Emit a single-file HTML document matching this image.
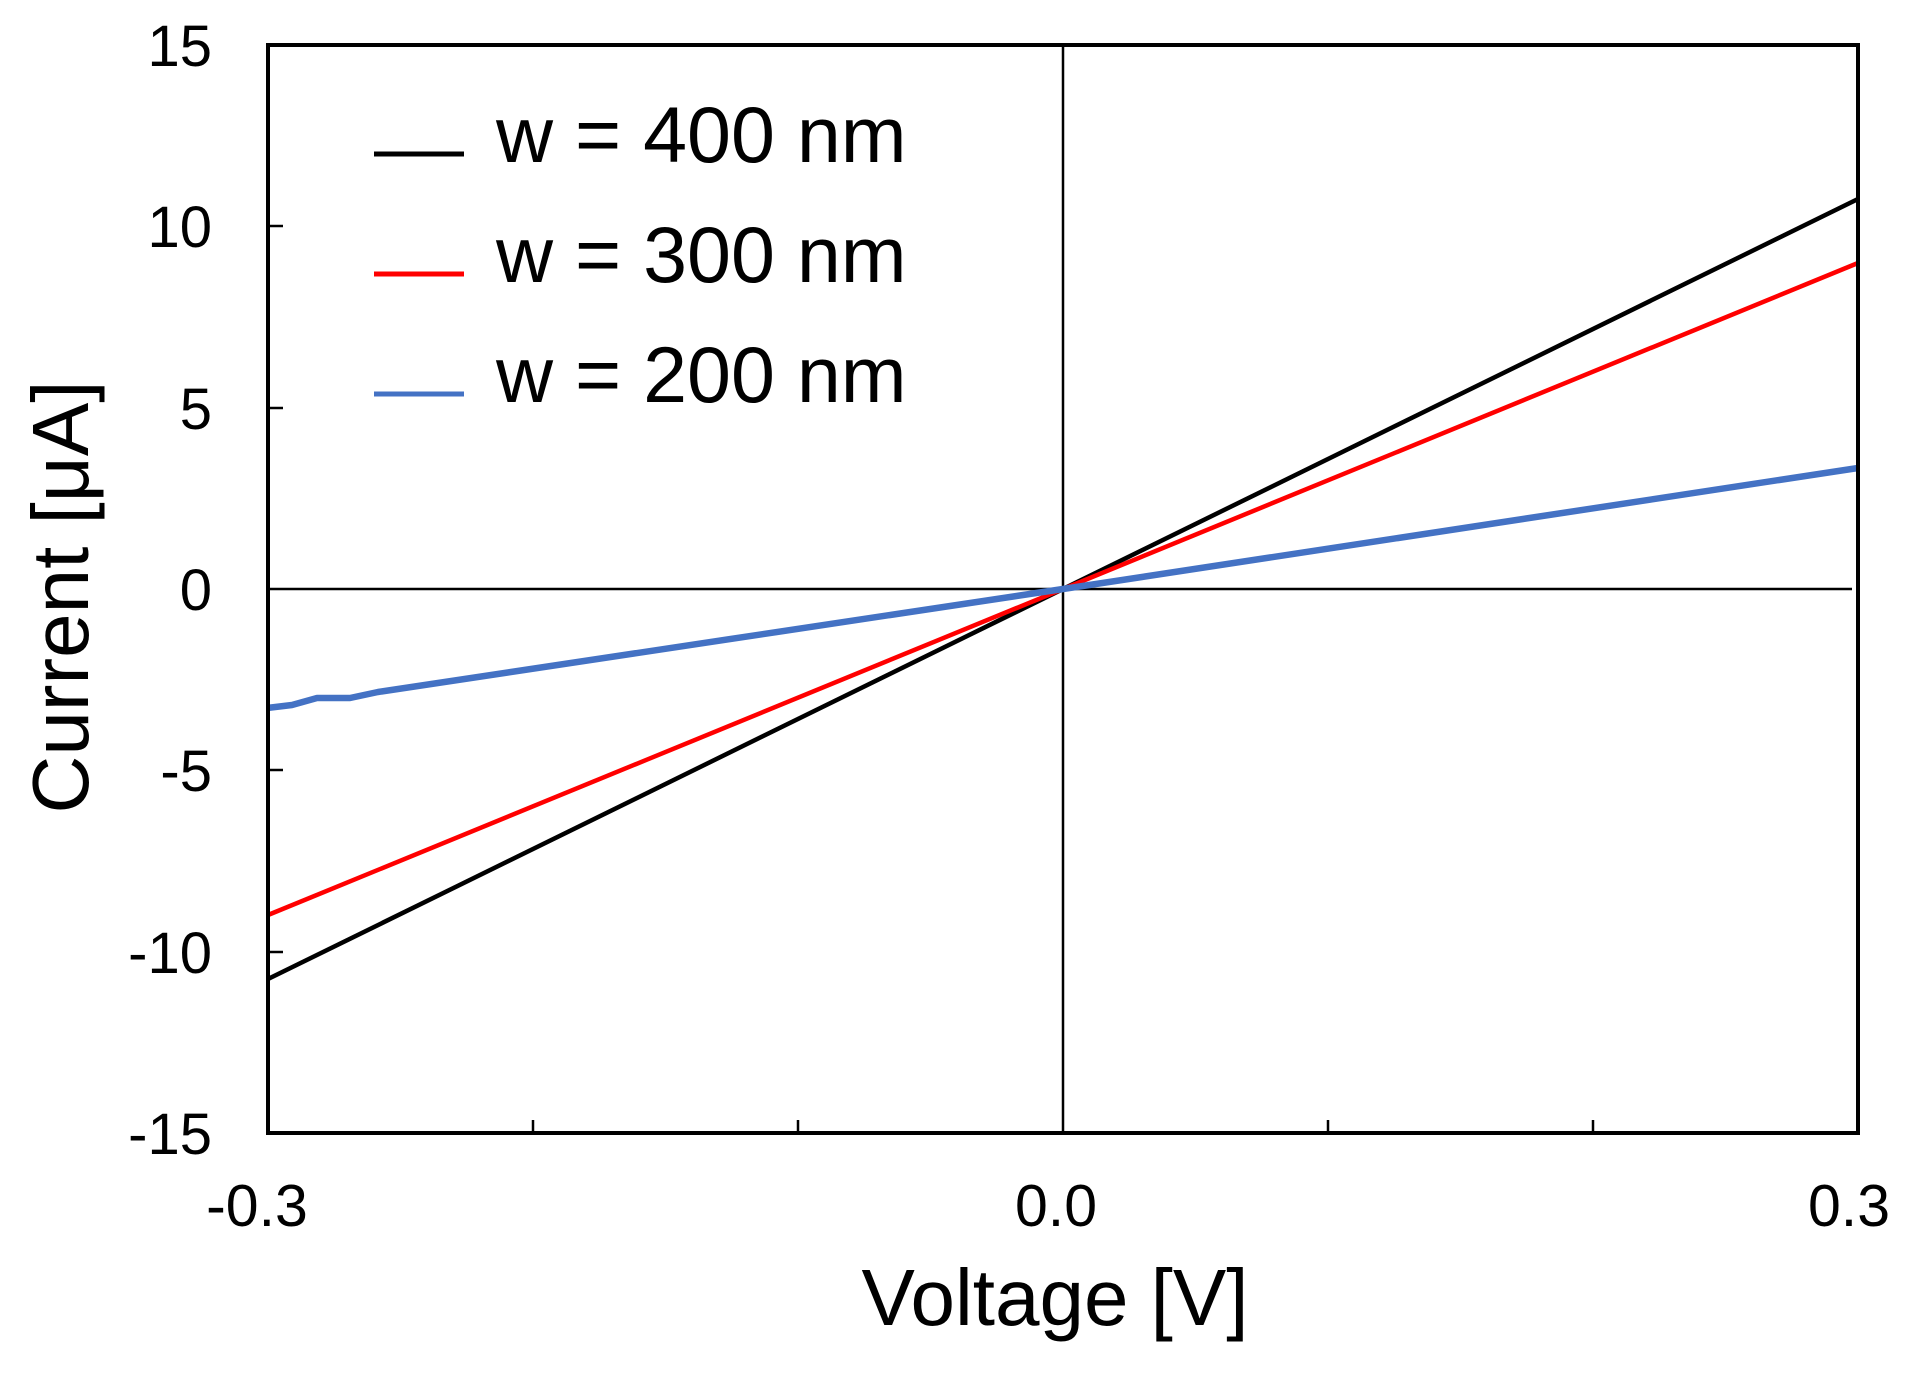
<!DOCTYPE html>
<html><head><meta charset="utf-8"><style>html,body{margin:0;padding:0;background:#fff}</style></head><body>
<svg width="1911" height="1374" viewBox="0 0 1911 1374" xmlns="http://www.w3.org/2000/svg" font-family="Liberation Sans, Arial, sans-serif">
<rect width="1911" height="1374" fill="#fff"/>
<g stroke="#000" stroke-width="2.5">
<line x1="268" y1="589" x2="1852" y2="589"/>
<line x1="1063" y1="45" x2="1063" y2="1133"/>
<line x1="268" y1="226" x2="283" y2="226"/>
<line x1="268" y1="408" x2="283" y2="408"/>
<line x1="268" y1="770" x2="283" y2="770"/>
<line x1="268" y1="952" x2="283" y2="952"/>
<line x1="533" y1="1133" x2="533" y2="1120"/>
<line x1="798" y1="1133" x2="798" y2="1120"/>
<line x1="1328" y1="1133" x2="1328" y2="1120"/>
<line x1="1593" y1="1133" x2="1593" y2="1120"/>
</g>
<polyline fill="none" stroke="#000" stroke-width="4.5" points="268,979 1858,199"/>
<polyline fill="none" stroke="#ff0000" stroke-width="4.5" points="268,915 1858,263"/>
<polyline fill="none" stroke="#4472c4" stroke-width="6.5" stroke-linejoin="round" points="267,708 292,705 317,698 350,698 378,692 1063,589 1858,468"/>
<rect x="268" y="45" width="1590" height="1088" fill="none" stroke="#000" stroke-width="4"/>
<g font-size="58" text-anchor="end" fill="#000">
<text x="212" y="66">15</text>
<text x="212" y="247">10</text>
<text x="212" y="429">5</text>
<text x="212" y="610">0</text>
<text x="212" y="791">-5</text>
<text x="212" y="973">-10</text>
<text x="212" y="1154">-15</text>
</g>
<g font-size="59" text-anchor="middle" fill="#000">
<text x="257" y="1226">-0.3</text>
<text x="1056" y="1226">0.0</text>
<text x="1849" y="1226">0.3</text>
</g>
<text x="1055" y="1325" font-size="80" text-anchor="middle">Voltage [V]</text>
<text transform="translate(88,597) rotate(-90)" font-size="80" text-anchor="middle">Current [μA]</text>
<g stroke-width="5">
<line x1="374" y1="154" x2="464" y2="154" stroke="#000"/>
<line x1="374" y1="274" x2="464" y2="274" stroke="#ff0000"/>
<line x1="374" y1="394" x2="464" y2="394" stroke="#4472c4"/>
</g>
<g font-size="79" fill="#000">
<text x="496" y="162">w = 400 nm</text>
<text x="496" y="282">w = 300 nm</text>
<text x="496" y="402">w = 200 nm</text>
</g>
</svg>
</body></html>
